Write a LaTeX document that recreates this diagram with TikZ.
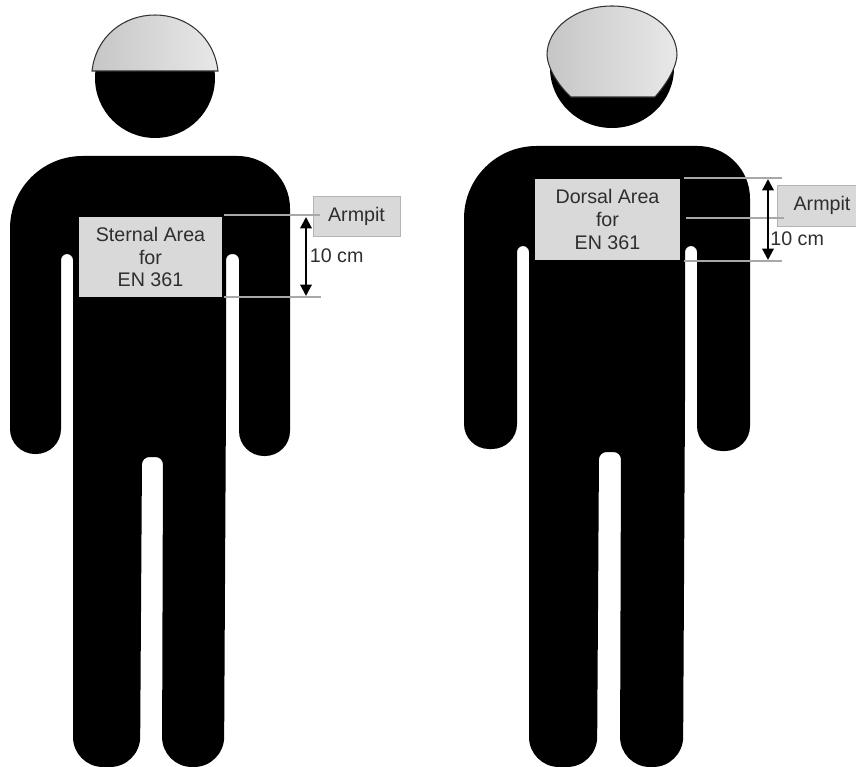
\documentclass[tikz,border=0pt]{standalone}
\usepackage{xcolor}
\usepackage{fontspec}
\usepackage{tikz}
\setmainfont{Liberation Sans}
\usetikzlibrary{arrows.meta, shapes.geometric}
\definecolor{boxfill}{HTML}{D9D9D9}
\definecolor{boxline}{HTML}{B4B4B4}
\definecolor{leadgray}{HTML}{A8A8A8}
\definecolor{inkdark}{HTML}{2E2E2E}
\definecolor{capdark}{HTML}{C6C6C6}
\definecolor{caplight}{HTML}{E8E8E8}
\tikzset{
  areabox/.style={fill=boxfill, inner sep=0pt, align=center, text=inkdark, font=\fontsize{11.2}{13}\selectfont},
  armpitbox/.style={areabox, draw=boxline, line width=0.5pt},
  leader/.style={leadgray, line width=1.3pt},
  span/.style={black, line width=1.2pt, {Triangle[length=6.5pt,width=6.5pt]}-{Triangle[length=6.5pt,width=6.5pt]}},
  dimlabel/.style={inner sep=0pt, anchor=west, text=inkdark, font=\fontsize{11.2}{13}\selectfont},
  capshade/.style={left color=capdark, right color=caplight, draw=black!80, line width=0.6pt},
}
\begin{document}
\begin{tikzpicture}[x=0.02cm, y=-0.02cm]
  \useasboundingbox (0,0) rectangle (856,767);
  % Front figure
  \fill (155,78) circle [radius=1.2cm];
  \shade[capshade] (92,71) .. controls (96,36) and (124,15) .. (155,15)
    .. controls (186,15) and (214,36) .. (218,71) -- cycle;
  \fill (10,300) [rounded corners=1.45cm] -- (10,156) [rounded corners=1.05cm] -- (290,156) [rounded corners=0.5cm] -- (290,456)
    -- (239,456) [rounded corners=0.12cm] -- (239,254) -- (226,254) [sharp corners] -- (226,400)
    [rounded corners=0.6cm] -- (224,767) -- (162,767) [rounded corners=0.15cm] -- (163,457) -- (142,457)
    [rounded corners=0.6cm] -- (140,767) -- (73,767) [rounded corners=0.12cm] -- (73,254) -- (61,254)
    [rounded corners=0.5cm] -- (61,454) -- (10,454) [sharp corners] -- cycle;
  \node[areabox, minimum width=2.86cm, minimum height=1.6cm] (sternal) at (150.5,257) {Sternal Area\\for\\EN 361};
  \node[armpitbox, minimum width=1.74cm, minimum height=0.8cm] (armpitfront) at (356.5,216) {Armpit};
  \coordinate (sternaltop) at (224,215);
  \coordinate (sternalend) at (320,215);
  \coordinate (sternallow) at (224,297);
  \coordinate (sternalout) at (321,297);
  \coordinate (spanfronta) at (306,217);
  \coordinate (spanfrontb) at (306,296);
  \draw[leader] (sternaltop) -- (sternalend);
  \draw[leader] (sternallow) -- (sternalout);
  \draw[span] (spanfronta) -- (spanfrontb);
  \node[dimlabel] (tenfront) at (309.5,256) {10 cm};
  % Back figure
  \fill (612,68) ellipse [x radius=1.24cm, y radius=1.2cm];
  \shade[capshade] (571,97) .. controls (563,90) and (548,72) .. (547,55)
    .. controls (547,28) and (576,6) .. (612,6)
    .. controls (648,6) and (677,28) .. (677,55)
    .. controls (676,72) and (661,90) .. (655,97) -- cycle;
  \fill (464,300) [rounded corners=1.45cm] -- (464,146) [rounded corners=1.05cm] -- (750,146) [rounded corners=0.5cm] -- (750,451)
    -- (697,451) [rounded corners=0.12cm] -- (697,246) -- (685,246) [sharp corners] -- (685,400)
    [rounded corners=0.6cm] -- (683,767) -- (620,767) [rounded corners=0.15cm] -- (621,452) -- (599,452)
    [rounded corners=0.6cm] -- (597,767) -- (529,767) [rounded corners=0.12cm] -- (529,246) -- (517,246)
    [rounded corners=0.5cm] -- (517,449) -- (464,449) [sharp corners] -- cycle;
  \node[areabox, minimum width=2.9cm, minimum height=1.62cm] (dorsal) at (607.5,219.5) {Dorsal Area\\for\\EN 361};
  \node[armpitbox, minimum width=1.6cm, minimum height=0.82cm] (armpitback) at (817,205.5) {\hspace*{0.2cm}Armpit};
  \coordinate (dorsaltop) at (684,178);
  \coordinate (dorsaltopend) at (782,178);
  \coordinate (dorsalmid) at (686,218);
  \coordinate (dorsalmidend) at (784,218);
  \coordinate (dorsallow) at (684,261);
  \coordinate (dorsallowend) at (782,261);
  \coordinate (spanbacka) at (768,179);
  \coordinate (spanbackb) at (768,260);
  \draw[leader] (dorsaltop) -- (dorsaltopend);
  \draw[leader] (dorsalmid) -- (dorsalmidend);
  \draw[leader] (dorsallow) -- (dorsallowend);
  \draw[span] (spanbacka) -- (spanbackb);
  \node[dimlabel] (tenback) at (770,239) {10 cm};
\end{tikzpicture}
\end{document}
